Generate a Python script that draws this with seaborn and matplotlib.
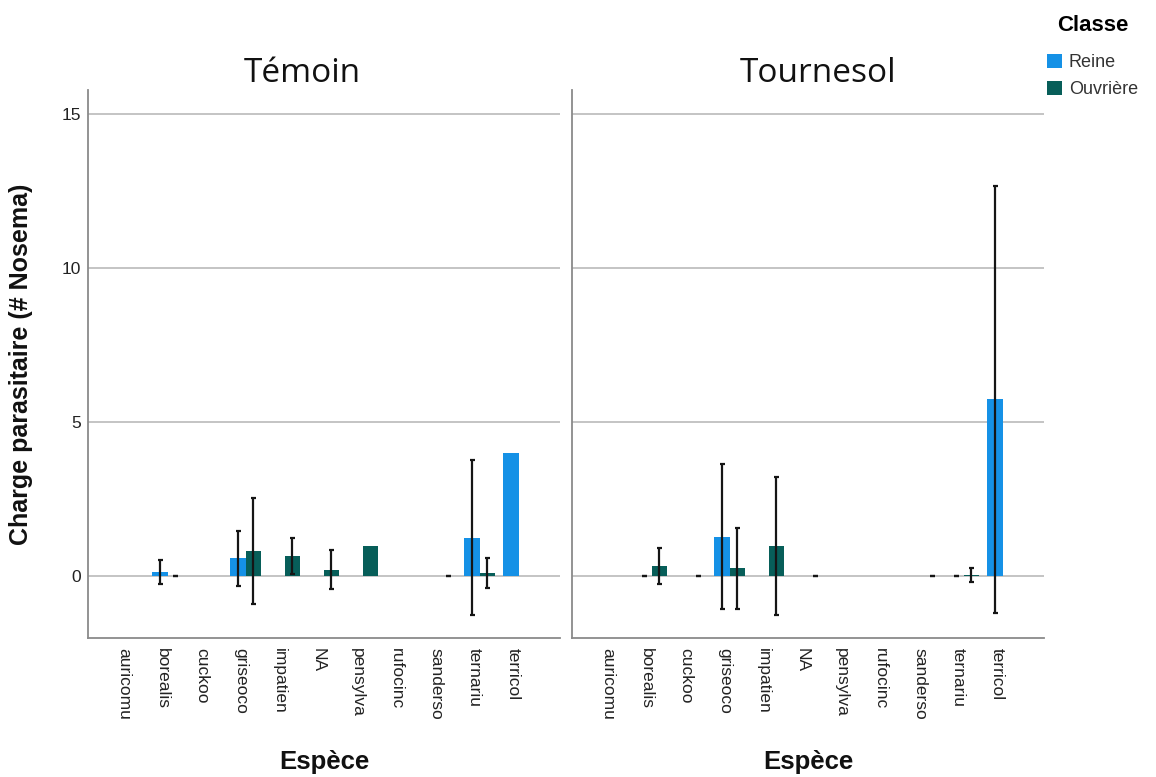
import numpy as np
import pandas as pd
import matplotlib
matplotlib.use("Agg")
import matplotlib.pyplot as plt
from matplotlib.patches import Patch
from matplotlib.transforms import ScaledTranslation
import seaborn as sns

nan = np.nan

especes = ["auricomu", "borealis", "cuckoo", "griseoco", "impatien", "NA",
           "pensylva", "rufocinc", "sanderso", "ternariu", "terricol"]
classes = ["Reine", "Ouvrière"]
traitements = ["Témoin", "Tournesol"]

# mean parasite load per species (NaN = no individuals)
temoin_reine = [nan, 0.14, nan, 0.58, nan, nan, nan, nan, nan, 1.25, 4.0]
temoin_reine_err = [nan, 0.38, nan, 0.90, nan, nan, nan, nan, nan, 2.51, nan]
temoin_ouvriere = [nan, 0.0, nan, 0.82, 0.66, 0.22, 1.0, nan, 0.0, 0.11, nan]
temoin_ouvriere_err = [nan, 0.0, nan, 1.73, 0.58, 0.62, nan, nan, 0.0, 0.49, nan]

tournesol_reine = [nan, 0.0, nan, 1.28, nan, nan, nan, nan, nan, 0.0, 5.74]
tournesol_reine_err = [nan, 0.0, nan, 2.35, nan, nan, nan, nan, nan, 0.0, 6.94]
tournesol_ouvriere = [nan, 0.33, 0.0, 0.255, 0.99, 0.0, nan, nan, 0.0, 0.04, nan]
tournesol_ouvriere_err = [nan, 0.59, 0.0, 1.32, 2.23, 0.0, nan, nan, 0.0, 0.23, nan]

palette = {"Reine": "#1591e6", "Ouvrière": "#075e59"}

series = {
    ("Témoin", "Reine"): (temoin_reine, temoin_reine_err),
    ("Témoin", "Ouvrière"): (temoin_ouvriere, temoin_ouvriere_err),
    ("Tournesol", "Reine"): (tournesol_reine, tournesol_reine_err),
    ("Tournesol", "Ouvrière"): (tournesol_ouvriere, tournesol_ouvriere_err),
}

rows = []
for (trt, cls), (vals, errs) in series.items():
    for sp, v, e in zip(especes, vals, errs):
        if not np.isnan(v):
            rows.append({"Traitement": trt, "Classe": cls, "Espèce": sp,
                         "Charge": v, "Erreur": e})
df = pd.DataFrame(rows)

plt.rcParams["font.family"] = ["Liberation Sans", "DejaVu Sans"]

W, H = 1156, 777
fig = plt.figure(figsize=(W / 100, H / 100), dpi=100)

panel_left = [88, 572]
panel_width = 472
ax_bottom, ax_top = 638, 90
title_x = [0.453, 0.522]
label_shift = ScaledTranslation(-5 / 100, 0, fig.dpi_scale_trans)

axes = []
for i, trt in enumerate(traitements):
    ax = fig.add_axes([panel_left[i] / W, 1 - ax_bottom / H,
                       panel_width / W, (ax_bottom - ax_top) / H])
    axes.append(ax)
    sub = df[df["Traitement"] == trt]
    sns.barplot(data=sub, x="Espèce", y="Charge", hue="Classe",
                order=especes, hue_order=classes, palette=palette,
                errorbar=None, width=0.8, linewidth=0, saturation=1,
                legend=False, ax=ax)

    # error bars drawn at the bar positions seaborn produced
    lookup = {(r.Espèce, r.Classe): r.Erreur for r in sub.itertuples()}
    for patch in ax.patches:
        cx = patch.get_x() + patch.get_width() / 2
        idx = int(round(cx))
        cls = "Reine" if cx < idx else "Ouvrière"
        err = lookup.get((especes[idx], cls), nan)
        if err is not None and not np.isnan(err):
            ax.errorbar(cx, patch.get_height(), yerr=err, fmt="none",
                        ecolor="#151515", elinewidth=1.6, capsize=1.8,
                        capthick=1.6, zorder=5)

    ax.set_xlim(-1.04, 11.06)
    ax.set_ylim(-2.0, 15.78)
    ax.set_yticks([0, 5, 10, 15])
    ax.yaxis.grid(True, color="#c4c4c4", linewidth=1.4)
    ax.set_axisbelow(True)
    for s in ["top", "right"]:
        ax.spines[s].set_visible(False)
    for s in ["left", "bottom"]:
        ax.spines[s].set_color("#8a8a8a")
        ax.spines[s].set_linewidth(1.3)
    ax.tick_params(axis="both", length=0, labelsize=12.5, colors="#222222")
    ax.tick_params(axis="x", pad=7, labelrotation=270)
    ax.tick_params(axis="y", pad=5)
    for lbl in ax.get_xticklabels():
        lbl.set_transform(lbl.get_transform() + label_shift)
    if i == 1:
        ax.tick_params(axis="y", labelleft=False)
        ax.set_ylabel("")
    else:
        ax.set_ylabel("Charge parasitaire (# Nosema)", fontsize=18,
                      fontweight="bold", color="#111111")
        ax.yaxis.label.set_va("center")
        ax.yaxis.set_label_coords(-0.143, 0.5)

    ax.set_xlabel("Espèce", fontsize=18.5, fontweight="bold", color="#111111")
    ax.xaxis.label.set_va("center")
    ax.xaxis.set_label_coords(0.5, -(762 - ax_bottom) / (ax_bottom - ax_top))

    ax.text(title_x[i], 1 + (ax_top - 82) / (ax_bottom - ax_top), trt,
            transform=ax.transAxes, ha="center", va="baseline",
            fontsize=24, family=["Open Sans", "DejaVu Sans"], color="#111111")

handles = [Patch(facecolor=palette[c], edgecolor="none") for c in classes]
leg = fig.legend(handles, classes, title="Classe", loc="upper left",
                 bbox_to_anchor=(1047 / W, 1 - 15 / H), frameon=False,
                 fontsize=13, handlelength=0.85, handleheight=0.8,
                 handletextpad=0.35, labelspacing=0.55, borderpad=0,
                 borderaxespad=0)
leg.get_title().set_fontsize(16)
leg.get_title().set_fontweight("bold")
leg._legend_box.sep = 13
for t in leg.get_texts():
    t.set_color("#333333")

fig.savefig("out.png", dpi=100)
